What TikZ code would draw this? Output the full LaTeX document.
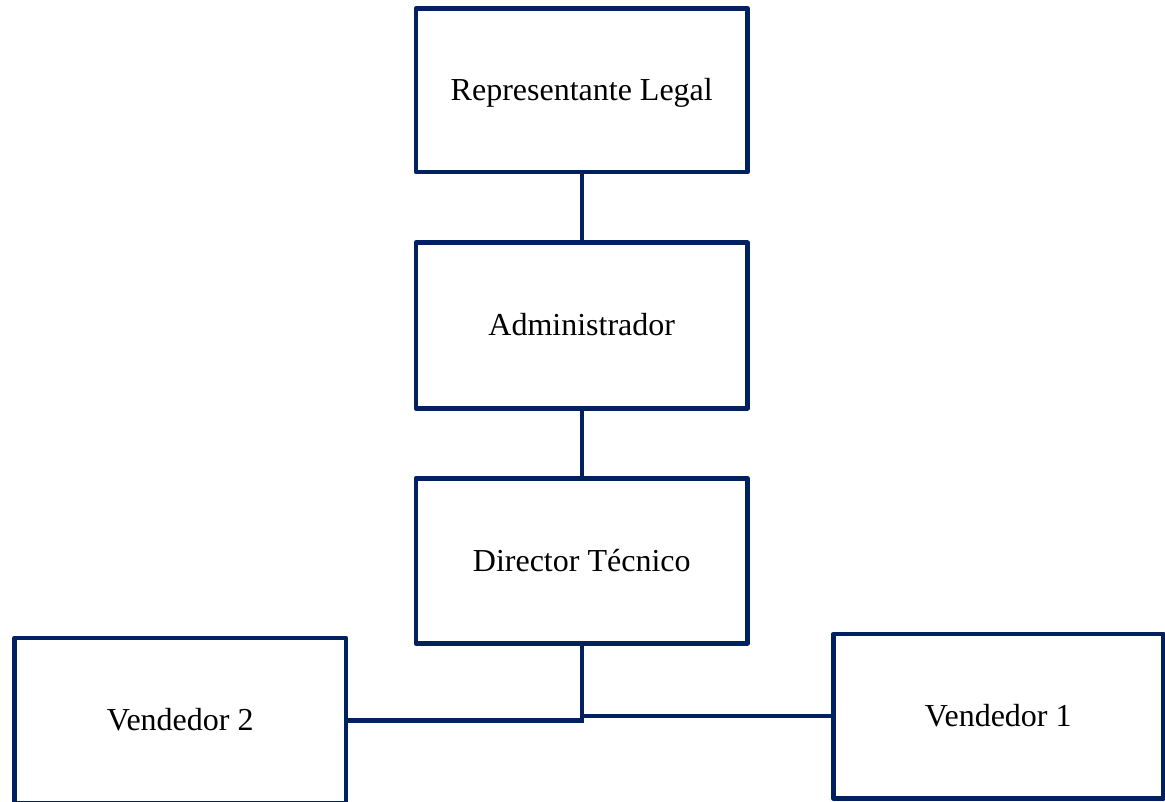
\documentclass[tikz,border=0pt]{standalone}
\usepackage{fontspec}
\setmainfont{Liberation Serif}
\definecolor{navy}{HTML}{002060}
\begin{document}
\begin{tikzpicture}[x=1pt,y=-1pt,
  orgbox/.style={draw=navy, line width=4.5pt, line join=round, rectangle,
    minimum width=331.5pt, minimum height=165pt, inner sep=0pt,
    font=\fontsize{32}{38}\selectfont, text height=20.5pt, text depth=0pt},
  link/.style={draw=navy, line width=4.5pt}]
\useasboundingbox (0,0) rectangle (1165,802);
\node[orgbox, minimum height=163.5pt] (rep) at (581.75,90.25) {Representante Legal};
\node[orgbox, minimum height=165.6pt] (adm) at (581.75,325.5) {Administrador};
\node[orgbox] (dir) at (581.75,560.8) {Director Técnico};
\node[orgbox] (v2) at (180.25,720.5) {Vendedor 2};
\node[orgbox, minimum width=330pt, minimum height=164.3pt] (v1) at (998.3,716.2) {Vendedor 1};
\draw[link] (rep.south) -- (adm.north);
\draw[link] (adm.south) -- (dir.north);
\draw[link] (dir.south) -- (dir.south |- v2.east) -- (v2.east);
\draw[link] (dir.south |- v1.west) -- (v1.west);
\end{tikzpicture}
\end{document}
